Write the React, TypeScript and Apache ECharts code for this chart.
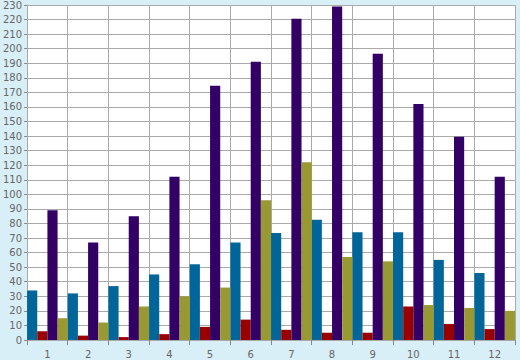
import React, { useEffect, useRef } from "react";
import * as echarts from "echarts";

const categories = ["1", "2", "3", "4", "5", "6", "7", "8", "9", "10", "11", "12"];
const blueValues = [34, 32, 37, 45, 52, 67, 73.5, 82.5, 74, 74, 55, 46];
const redValues = [6, 3, 2, 4, 9, 14, 7, 5, 5, 23, 11, 7.5];
const purpleValues = [89, 67, 85, 112, 174.5, 191, 220.5, 229, 196.5, 162, 139.5, 112];
const oliveValues = [15, 12, 23, 30, 36, 96, 122, 57, 54, 24, 22, 20];

export default function App() {
  const ref = useRef<HTMLDivElement>(null);
  useEffect(() => {
    if (!ref.current) return;
    const chart = echarts.init(ref.current, null, { renderer: "svg" });
    const mk = (name: string, data: number[], color: string) => ({
      name,
      type: "bar",
      data,
      barGap: "0%",
      barCategoryGap: "0%",
      itemStyle: { color },
    });
    chart.setOption({
      animation: false,
      backgroundColor: "#d9eff7",
      textStyle: { fontFamily: "DejaVu Sans" },
      grid: { left: 25, right: 5, top: 5, bottom: 20, backgroundColor: "#ffffff", show: true, borderWidth: 0 },
      xAxis: {
        type: "category",
        data: categories,
        boundaryGap: true,
        axisLine: { show: true, lineStyle: { color: "#aaaaaa", width: 1 } },
        axisTick: { show: true, length: 5, lineStyle: { color: "#888888" } },
        axisLabel: { color: "#666666", fontSize: 10, margin: 9, fontFamily: "DejaVu Sans" },
        splitLine: { show: true, lineStyle: { color: "#aaaaaa", width: 1 } },
      },
      yAxis: {
        type: "value",
        min: 0,
        max: 230,
        interval: 10,
        axisLine: { show: true, lineStyle: { color: "#aaaaaa", width: 1 } },
        axisTick: { show: true, length: 3, lineStyle: { color: "#888888" } },
        axisLabel: { color: "#666666", fontSize: 10, margin: 5, fontFamily: "DejaVu Sans" },
        splitLine: { show: true, lineStyle: { color: "#aaaaaa", width: 1 } },
      },
      series: [
        mk("A", blueValues, "#006699"),
        mk("B", redValues, "#990000"),
        mk("C", purpleValues, "#330066"),
        mk("D", oliveValues, "#999933"),
      ],
    });
    return () => chart.dispose();
  }, []);
  return <div ref={ref} style={{ width: 520, height: 360, position: "absolute", left: 0, top: 0 }} />;
}
